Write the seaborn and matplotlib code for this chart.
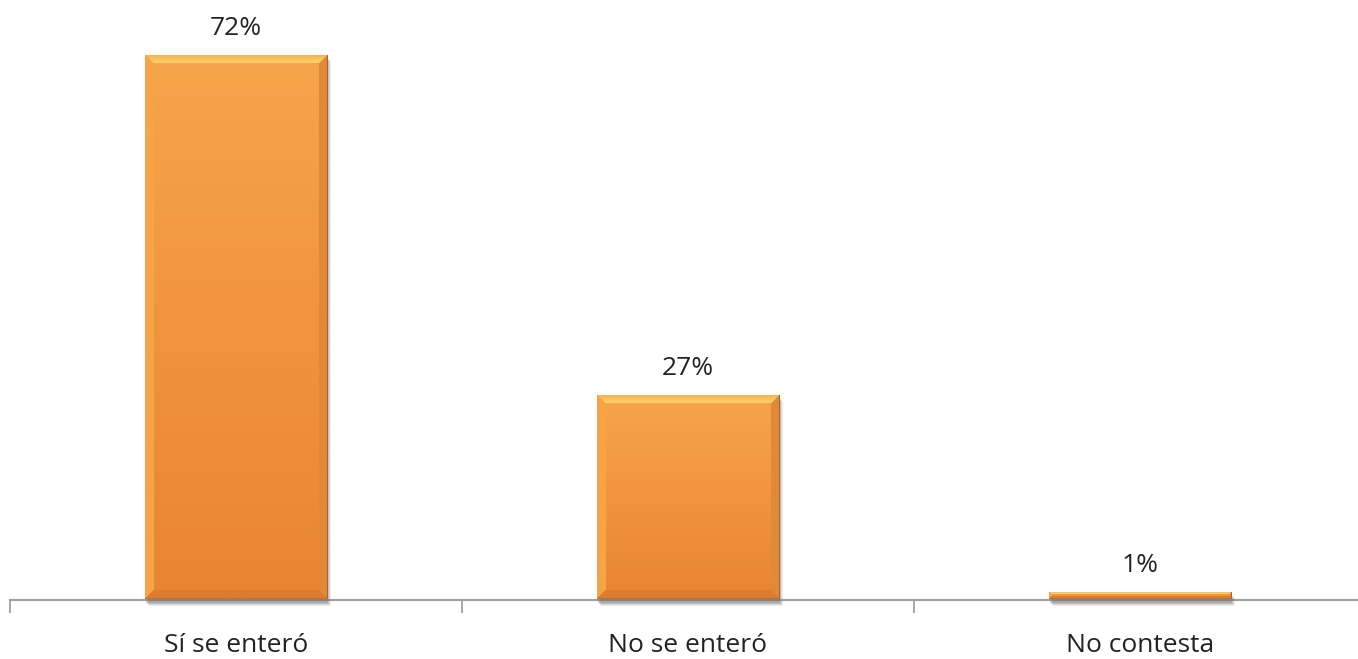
import numpy as np
import pandas as pd
import matplotlib
matplotlib.use('Agg')
import matplotlib.pyplot as plt
import matplotlib.transforms as mtransforms
from matplotlib.colors import to_rgb
from matplotlib.patches import Rectangle
import seaborn as sns

# Data
categories = ['Sí se enteró', 'No se enteró', 'No contesta']
values = [72, 27, 1]
value_labels = ['72%', '27%', '1%']

df = pd.DataFrame({'respuesta': categories, 'pct': values})

sns.set_style('white')
plt.rcParams['font.family'] = ['Open Sans', 'DejaVu Sans']

W, H, DPI = 1358, 659, 100
fig = plt.figure(figsize=(W / DPI, H / DPI), dpi=DPI)
px_per_unit = (599.5 - 55) / 72
ax = fig.add_axes([10.25 / W, 59.5 / H, 1355.5 / W, 599.5 / H])

sns.barplot(data=df, x='respuesta', y='pct', color='#F5A045', width=0.403,
            ax=ax, saturation=1, edgecolor='none', zorder=3)
ax.set_xlim(-0.5, 2.5)
ax.set_ylim(0, 599.5 / px_per_unit)


def bevel_image(hpx, wpx, b):
    top_in = np.array(to_rgb('#F7A54A'))
    bot_in = np.array(to_rgb('#EA8431'))
    c_top_out = np.array(to_rgb('#F4B04E'))
    c_top_in = np.array(to_rgb('#FAD26C'))
    c_left = np.array(to_rgb('#F6A447'))
    c_right = np.array(to_rgb('#E08A38'))
    c_bot = np.array(to_rgb('#DD7C2E'))
    img = np.zeros((hpx, wpx, 3))
    r = np.arange(hpx)[:, None] * np.ones((1, wpx))
    c = np.ones((hpx, 1)) * np.arange(wpx)[None, :]
    t = r / max(hpx - 1, 1)
    img[:] = (top_in[None, None, :] * (1 - t[..., None]) + bot_in[None, None, :] * t[..., None])
    d = np.stack([r, hpx - 1 - r, c, wpx - 1 - c])
    which = np.argmin(d, axis=0)
    mind = np.min(d, axis=0)
    edge = mind < b
    # top bevel: graded from outer to inner
    m = edge & (which == 0)
    f = (mind[m] / max(b - 1, 1))[:, None]
    img[m] = c_top_out * (1 - f) + c_top_in * f
    for k, col in [(1, c_bot), (2, c_left), (3, c_right)]:
        m = edge & (which == k)
        img[m] = col
    # thin outer rim
    rim = mind < 1
    img[rim & (which == 0)] = to_rgb('#E8902F')
    img[rim & (which == 3)] = to_rgb('#A8642A')
    img[rim & (which == 1)] = to_rgb('#C86E28')
    return img


for patch, lab in zip(ax.patches, value_labels):
    x, y = patch.get_x(), patch.get_y()
    w, h = patch.get_width(), patch.get_height()
    hpx = max(int(round(h * px_per_unit)), 2)
    wpx = int(round(w * 451.5))
    b = min(9, hpx // 2.5)
    img = bevel_image(hpx, wpx, b)
    im = ax.imshow(img, extent=[x, x + w, y, y + h], aspect='auto',
                   zorder=4, interpolation='bilinear')
    im.set_clip_path(patch)
    # soft shadow
    for i, a in enumerate([0.12, 0.16, 0.22, 0.28]):
        off = mtransforms.ScaledTranslation((4 - i) / DPI, -(6 - i) / DPI, fig.dpi_scale_trans)
        sh = Rectangle((x, y), w, h, facecolor='#6E6E6E', edgecolor='none',
                       alpha=a, transform=ax.transData + off, zorder=3.5, clip_on=False)
        ax.add_patch(sh)
    ax.annotate(lab, (x + w / 2, y + h), xytext=(0, 14.5), textcoords='offset points',
                ha='center', va='baseline', fontsize=19, color='#222222')

ax.set_xlabel('')
ax.set_ylabel('')
ax.set_yticks([])
ax.set_xticks([0, 1, 2])
ax.set_xticklabels(categories, fontsize=19, color='#222222')
ax.tick_params(axis='x', which='major', length=0, pad=24)
ax.set_xticks([-0.5, 0.5, 1.5, 2.5], minor=True)
ax.tick_params(axis='x', which='minor', bottom=True, length=9, width=1.3,
               color='#A0A0A0', direction='out')

for s in ['top', 'right', 'left']:
    ax.spines[s].set_visible(False)
ax.spines['bottom'].set_color('#A0A0A0')
ax.spines['bottom'].set_linewidth(1.5)
ax.spines['bottom'].set_zorder(3)

fig.savefig('out.png', dpi=DPI)
